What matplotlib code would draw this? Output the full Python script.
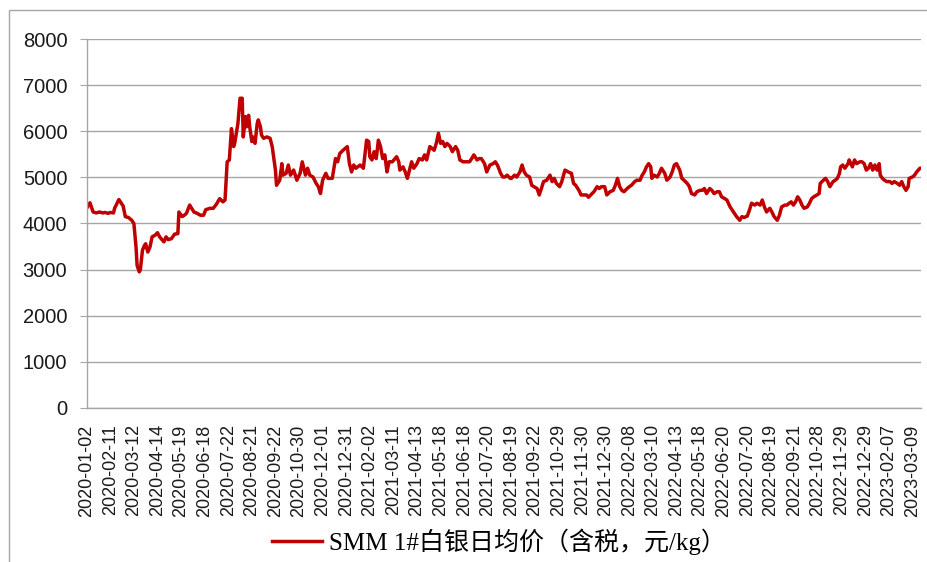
import matplotlib
matplotlib.use("Agg")
import matplotlib.pyplot as plt
from matplotlib.patches import Rectangle

# trading-day index (0 = 2020-01-02) and SMM 1# silver daily average price (yuan/kg)
day_idx = [0, 3, 6, 9, 12, 15, 17, 20, 22, 25, 26, 30, 34, 36, 39, 42, 44, 46, 47, 49, 50,
           52, 54, 55, 57, 59, 61, 64, 66, 68, 72, 74, 76, 79, 82, 85, 86, 89, 91, 93, 96,
           100, 103, 106, 109, 111, 115, 118, 121, 124, 127, 129, 131, 133, 135, 137, 138,
           140, 141, 143, 145, 146, 148, 149, 151, 152, 154, 155, 157, 159, 160, 162, 163,
           165, 168, 171, 173, 176, 177, 180, 182, 183, 186, 188, 190, 193, 196, 199, 201,
           204, 206, 208, 211, 214, 216, 218, 220, 223, 225, 229, 232, 234, 236, 239, 243,
           245, 247, 249, 251, 255, 258, 261, 263, 264, 266, 268, 270, 272, 274, 276, 278,
           280, 282, 285, 289, 291, 292, 295, 297, 299, 301, 303, 305, 308, 310, 313, 315,
           317, 320, 322, 324, 326, 328, 330, 332, 334, 336, 339, 341, 344, 346, 348, 351,
           354, 357, 359, 361, 364, 366, 368, 371, 373, 376, 379, 381, 383, 386, 388, 390,
           392, 395, 396, 399, 401, 404, 406, 408, 410, 413, 415, 417, 420, 422, 424, 426,
           429, 432, 434, 436, 438, 441, 443, 446, 449, 452, 454, 456, 459, 461, 463, 466,
           468, 470, 473, 476, 478, 480, 483, 485, 488, 491, 493, 495, 497, 499, 501, 504,
           506, 508, 511, 513, 516, 518, 520, 522, 524, 526, 527, 529, 532, 534, 536, 539,
           541, 544, 546, 548, 550, 553, 555, 557, 560, 562, 564, 567, 569, 572, 574, 576,
           578, 581, 583, 585, 588, 590, 592, 595, 597, 600, 602, 604, 606, 609, 611, 613,
           616, 618, 620, 623, 625, 628, 630, 632, 634, 637, 639, 641, 644, 646, 648, 651,
           653, 655, 657, 659, 661, 663, 665, 667, 669, 672, 674, 676, 678, 681, 683, 684,
           687, 689, 691, 693, 696, 698, 700, 702, 703, 705, 707, 710, 711, 714, 716, 718,
           721, 723, 725, 727, 729, 731, 733, 735, 737, 739, 740, 742, 744, 746, 749, 751,
           753, 756, 758, 760, 762, 764, 766, 767, 770, 772, 774, 777, 778]
price = [4330, 4450, 4250, 4230, 4250, 4230, 4240, 4220, 4240, 4230, 4330, 4520, 4380, 4150,
         4130, 4070, 4000, 3490, 3090, 2950, 2990, 3420, 3530, 3560, 3380, 3490, 3710, 3750,
         3800, 3710, 3600, 3710, 3650, 3670, 3770, 3780, 4250, 4150, 4180, 4220, 4400, 4250,
         4220, 4180, 4180, 4300, 4330, 4330, 4420, 4540, 4470, 4510, 5340, 5380, 6060, 5670,
         5740, 6030, 6170, 6720, 6720, 5880, 6320, 6100, 6350, 6100, 5780, 5880, 5740, 6170,
         6250, 6100, 5920, 5850, 5880, 5850, 5670, 5160, 4830, 4940, 5300, 5050, 5090, 5270,
         5050, 5160, 4940, 5090, 5340, 5050, 5200, 5050, 5010, 4870, 4800, 4650, 4940, 5090,
         4980, 4980, 5410, 5340, 5520, 5590, 5670, 5300, 5120, 5270, 5200, 5270, 5200, 5810,
         5780, 5450, 5380, 5560, 5410, 5810, 5670, 5410, 5490, 5120, 5340, 5340, 5450, 5340,
         5160, 5230, 5120, 4980, 5160, 5340, 5200, 5300, 5410, 5380, 5490, 5380, 5670, 5630,
         5590, 5740, 5960, 5740, 5780, 5670, 5740, 5670, 5560, 5670, 5590, 5380, 5340, 5340,
         5340, 5410, 5490, 5380, 5410, 5410, 5300, 5120, 5270, 5300, 5340, 5270, 5090, 5010,
         5010, 5050, 4980, 4980, 5050, 5010, 5120, 5270, 5120, 5050, 5010, 4830, 4800, 4760,
         4620, 4760, 4910, 4940, 5050, 4910, 4980, 4870, 4800, 4910, 5160, 5120, 5090, 4870,
         4830, 4720, 4620, 4620, 4620, 4570, 4620, 4690, 4800, 4760, 4800, 4800, 4620, 4690,
         4720, 4830, 4980, 4800, 4720, 4690, 4760, 4800, 4830, 4910, 4940, 4940, 5050, 5120,
         5230, 5300, 5230, 4980, 5050, 5010, 5090, 5200, 5090, 4940, 5010, 5120, 5270, 5300,
         5160, 4980, 4940, 4870, 4800, 4650, 4620, 4690, 4720, 4720, 4760, 4650, 4760, 4720,
         4650, 4690, 4690, 4580, 4540, 4510, 4360, 4290, 4220, 4150, 4070, 4150, 4130, 4160,
         4290, 4440, 4400, 4440, 4400, 4510, 4360, 4250, 4330, 4250, 4150, 4070, 4180, 4360,
         4400, 4400, 4440, 4470, 4400, 4470, 4580, 4510, 4400, 4330, 4360, 4440, 4540, 4580,
         4620, 4650, 4870, 4940, 4980, 4910, 4800, 4910, 4940, 4980, 5090, 5230, 5270, 5200,
         5300, 5380, 5230, 5380, 5300, 5340, 5340, 5300, 5160, 5200, 5300, 5160, 5270, 5160,
         5300, 5050, 4980, 4940, 4910, 4910, 4870, 4910, 4870, 4830, 4910, 4800, 4720, 4800,
         4980, 5010, 5050, 5120, 5200, 5200]

tick_labels = ["2020-01-02", "2020-02-11", "2020-03-12", "2020-04-14", "2020-05-19",
               "2020-06-18", "2020-07-22", "2020-08-21", "2020-09-22", "2020-10-30",
               "2020-12-01", "2020-12-31", "2021-02-02", "2021-03-11", "2021-04-13",
               "2021-05-18", "2021-06-18", "2021-07-20", "2021-08-19", "2021-09-22",
               "2021-10-29", "2021-11-30", "2021-12-30", "2022-02-08", "2022-03-10",
               "2022-04-13", "2022-05-18", "2022-06-20", "2022-07-20", "2022-08-19",
               "2022-09-21", "2022-10-28", "2022-11-29", "2022-12-29", "2023-02-07",
               "2023-03-09"]
tick_step = 22
n_days = 779
series_name = "SMM 1#白银日均价（含税，元/kg）"

W, H = 927, 562
fig = plt.figure(figsize=(W / 100, H / 100), dpi=100)
ax = fig.add_axes([86.7 / W, 1 - 407.7 / H, (921 - 86.7) / W, (407.7 - 39.3) / H])

line, = ax.plot(day_idx, price, color="#C00000", lw=2.5, solid_joinstyle="round",
                label=series_name)

ax.set_xlim(0, n_days - 1)
ax.set_ylim(0, 8000)
ax.set_yticks(range(0, 8001, 1000))
ax.set_xticks([i * tick_step for i in range(len(tick_labels))])
ax.set_xticklabels(tick_labels, rotation=90, fontsize=13, family="Liberation Sans",
                   color="#1a1a1a")
for t in ax.get_yticklabels():
    t.set_fontsize(14.5)
    t.set_family("Liberation Sans")
    t.set_color("#1a1a1a")

ax.grid(axis="y", color="#A6A6A6", lw=1.0)
ax.set_axisbelow(True)
for s in ["top", "right"]:
    ax.spines[s].set_visible(False)
for s in ["left", "bottom"]:
    ax.spines[s].set_color("#A6A6A6")
    ax.spines[s].set_linewidth(1.0)
ax.tick_params(axis="y", length=5, color="#A6A6A6", pad=9)
ax.tick_params(axis="x", length=0, pad=12)

leg = fig.legend(handles=[line], loc="center", bbox_to_anchor=(499 / W, 1 - 541.5 / H),
                 frameon=False, handlelength=2.0, handletextpad=0.3,
                 prop={"family": ["Liberation Serif", "Noto Sans CJK SC"], "size": 18})

fig.patches.append(Rectangle((9.3 / W, -0.1), 1.2, 1 - 10 / H + 0.1, transform=fig.transFigure,
                             fill=False, edgecolor="#A6A6A6", lw=1.0))

fig.savefig("out.png", dpi=100)
